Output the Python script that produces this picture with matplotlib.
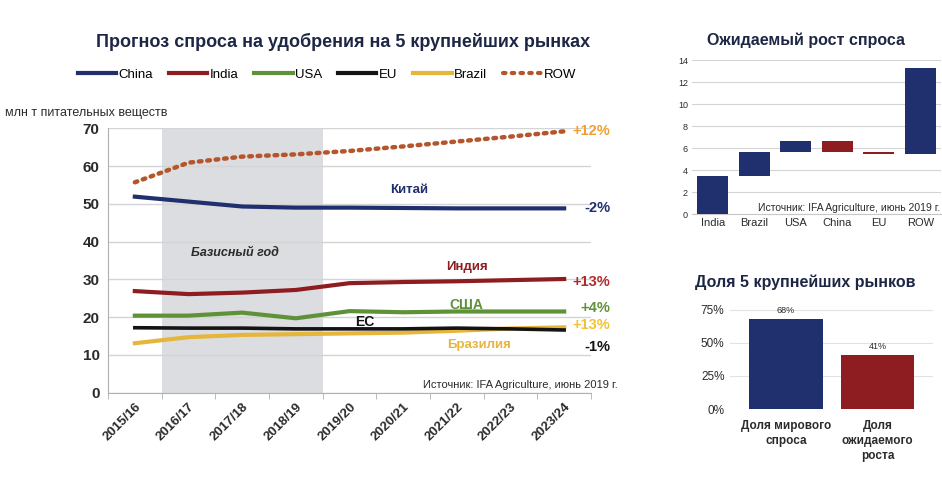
import matplotlib
matplotlib.use("Agg")
import matplotlib.pyplot as plt
import numpy as np
from matplotlib.lines import Line2D

plt.rcParams['font.family'] = ['Liberation Sans Narrow', 'Liberation Sans', 'DejaVu Sans']

# ---- main chart data ----
seasons = ["2015/16", "2016/17", "2017/18", "2018/19", "2019/20",
           "2020/21", "2021/22", "2022/23", "2023/24"]
china = [51.9, 50.6, 49.3, 49.0, 49.0, 48.9, 48.8, 48.8, 48.8]
india = [26.9, 26.1, 26.5, 27.2, 29.0, 29.3, 29.5, 29.8, 30.1]
usa = [20.4, 20.4, 21.2, 19.7, 21.6, 21.3, 21.5, 21.5, 21.5]
eu = [17.2, 17.1, 17.1, 16.9, 16.9, 16.9, 17.1, 16.9, 16.6]
brazil = [13.1, 14.7, 15.3, 15.5, 15.7, 15.9, 16.4, 17.0, 17.3]
row = [55.7, 60.9, 62.5, 63.1, 64.0, 65.2, 66.5, 67.8, 69.2]
change_labels = ["+12%", "-2%", "+13%", "+4%", "+13%", "-1%"]

# ---- waterfall data ----
wf_names = ["India", "Brazil", "USA", "China", "EU", "ROW"]
wf_delta = [3.5, 2.1, 1.0, -1.0, -0.15, 7.8]

# ---- share data ----
share_names = ["Доля мирового\nспроса", "Доля\nожидаемого\nроста"]
share_vals = [68, 41]

NAVY = "#20306e"
RED = "#8e1d22"
GREEN = "#5f9238"
BLACK = "#141414"
GOLD = "#e6b63c"
ROWC = "#b4552c"
TITLE = "#1d2745"
TXT = "#2b2b2b"
GRID = "#d4d4d4"

W, H = 942, 478
fig = plt.figure(figsize=(W / 100, H / 100), dpi=100)
fig.patch.set_facecolor("white")


def fx(px):
    return px / W


def fy(py):
    return 1 - py / H


# ================= main line chart =================
ax = fig.add_axes([fx(108), fy(392.7), fx(591) - fx(108), fy(128.3) - fy(392.7)])
x = np.arange(len(seasons))
ax.set_xlim(-0.5, len(seasons) - 0.5)
ax.set_ylim(0, 70)
ax.axvspan(0.5, 3.5, color="#dcdde0", zorder=0, lw=0)
ax.set_yticks(np.arange(0, 71, 10))
ax.yaxis.grid(True, color=GRID, lw=1)
ax.set_axisbelow(True)
for s in ["top", "right"]:
    ax.spines[s].set_visible(False)
ax.spines["left"].set_color("#b0b0b0")
ax.spines["bottom"].set_color("#b0b0b0")
ax.tick_params(axis="y", length=0, labelsize=11, colors=TXT, pad=6)
ax.set_xticks(x)
ax.set_xticklabels(seasons, rotation=45, ha="right", va="top",
                   rotation_mode="anchor", fontsize=9.5, fontweight="bold", color=TXT)
ax.set_xticks(np.arange(-0.5, len(seasons)), minor=True)
ax.tick_params(axis="x", which="major", length=0, pad=6)
ax.tick_params(axis="x", which="minor", length=4, color="#b0b0b0")
for lab in ax.get_yticklabels():
    lab.set_fontweight("bold")

ax.plot(x, row, color=ROWC, lw=3.2, linestyle=(0, (0.6, 1.3)), dash_capstyle="round", zorder=3)
ax.plot(x, china, color=NAVY, lw=3, zorder=3)
ax.plot(x, india, color=RED, lw=3, zorder=3)
ax.plot(x, usa, color=GREEN, lw=3, zorder=3)
ax.plot(x, brazil, color=GOLD, lw=3, zorder=3)
ax.plot(x, eu, color=BLACK, lw=2.6, zorder=4)

ax.text(5.12, 53.7, "Китай", color=NAVY, fontsize=9.5, fontweight="bold", ha="center", va="center")
ax.text(6.18, 33.3, "Индия", color=RED, fontsize=9.5, fontweight="bold", ha="center", va="center")
ax.text(6.18, 23.2, "США", color=GREEN, fontsize=10, fontweight="bold", ha="center", va="center")
ax.text(4.28, 18.6, "ЕС", color=BLACK, fontsize=10, fontweight="bold", ha="center", va="center")
ax.text(6.42, 12.6, "Бразилия", color=GOLD, fontsize=9.5, fontweight="bold", ha="center", va="center")
ax.text(1.86, 37.0, "Базисный год", color=TXT, fontsize=9, fontweight="bold",
        style="italic", ha="center", va="center")

lab_y = [69.3, 48.9, 29.3, 22.4, 17.9, 12.1]
lab_c = ["#f0a030", NAVY, "#b02a2a", GREEN, "#f2c236", BLACK]
for t, yy, c in zip(change_labels, lab_y, lab_c):
    ax.text(8.86, yy, t, color=c, fontsize=10.5, fontweight="bold",
            ha="right", va="center", clip_on=False)

ax.text(fx(618), fy(385), "Источник: IFA Agriculture, июнь 2019 г.", transform=fig.transFigure,
        fontsize=8, color=TXT, ha="right", va="center")

fig.text(fx(5), fy(113), "млн т питательных веществ", fontsize=9, color=TXT, ha="left", va="center")

fig.text(fx(343), fy(42), "Прогноз спроса на удобрения на 5 крупнейших рынках",
         fontsize=13, fontweight="bold", color=TITLE, ha="center", va="center")

handles = [
    Line2D([], [], color=NAVY, lw=3),
    Line2D([], [], color=RED, lw=3),
    Line2D([], [], color=GREEN, lw=3),
    Line2D([], [], color=BLACK, lw=3),
    Line2D([], [], color=GOLD, lw=3),
    Line2D([], [], color=ROWC, lw=3, linestyle=(0, (0.6, 1.5)), dash_capstyle="round"),
]
fig.legend(handles, ["China", "India", "USA", "EU", "Brazil", "ROW"],
           loc="center", bbox_to_anchor=(fx(327), fy(75)), ncol=6, frameon=False,
           fontsize=9.5, handlelength=2.9, handletextpad=0.2, columnspacing=1.2)

# ================= waterfall =================
ax2 = fig.add_axes([fx(692), fy(214), 0.999 - fx(692), fy(60) - fy(214)])
ends = np.cumsum(wf_delta)
starts = ends - np.array(wf_delta)
bottoms = np.minimum(starts, ends)
heights = np.abs(wf_delta)
colors = [NAVY if d > 0 else RED for d in wf_delta]
xw = np.arange(len(wf_names))
ax2.bar(xw, heights, bottom=bottoms, width=0.74, color=colors, zorder=3)
ax2.set_xlim(-0.5, len(wf_names) - 0.5)
ax2.set_ylim(0, 14)
ax2.set_yticks(np.arange(0, 15, 2))
ax2.yaxis.grid(True, color=GRID, lw=0.8)
ax2.set_axisbelow(True)
for s in ["top", "right", "left", "bottom"]:
    ax2.spines[s].set_visible(False)
ax2.spines["bottom"].set_visible(True)
ax2.spines["bottom"].set_color("#c8c8c8")
ax2.tick_params(axis="y", length=0, labelsize=6.5, colors=TXT, pad=3)
ax2.set_xticks(xw)
ax2.set_xticklabels(wf_names, fontsize=8, color=TXT)
ax2.tick_params(axis="x", length=0, pad=3)
ax2.text(fx(940), fy(208), "Источник: IFA Agriculture, июнь 2019 г.", transform=fig.transFigure,
         fontsize=7.5, color=TXT, ha="right", va="center", zorder=5)
fig.text(fx(806), fy(40), "Ожидаемый рост спроса", fontsize=11.5, fontweight="bold",
         color=TITLE, ha="center", va="center")

# ================= share bars =================
ax3 = fig.add_axes([fx(730), fy(409), fx(933) - fx(730), fy(306) - fy(409)])
xs = np.arange(len(share_vals))
ax3.bar(xs, share_vals, width=0.8, color=[NAVY, RED], zorder=3)
ax3.set_xlim(-0.612, 1.607)
ax3.set_ylim(0, 78)
ax3.set_yticks([0, 25, 50, 75])
ax3.set_yticklabels(["0%", "25%", "50%", "75%"])
ax3.yaxis.grid(True, color="#e2e2e2", lw=0.8)
ax3.set_axisbelow(True)
for s in ["top", "right", "left", "bottom"]:
    ax3.spines[s].set_visible(False)
ax3.tick_params(axis="y", length=0, labelsize=8.5, colors=TXT, pad=4)
ax3.set_xticks(xs)
ax3.set_xticklabels(share_names, fontsize=8.5, fontweight="bold", color=TXT, linespacing=1.3)
ax3.tick_params(axis="x", length=0, pad=8)
for xi, v in zip(xs, share_vals):
    ax3.text(xi, v + 3, f"{v}%", fontsize=6.5, color=TXT, ha="center", va="bottom")
fig.text(fx(805), fy(282), "Доля 5 крупнейших рынков", fontsize=11.5, fontweight="bold",
         color=TITLE, ha="center", va="center")

fig.savefig("out.png", dpi=100, facecolor="white")
